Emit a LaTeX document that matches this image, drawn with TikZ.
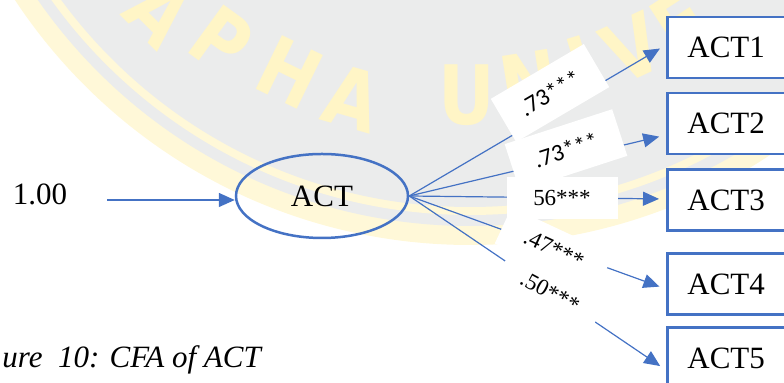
\documentclass[tikz,border=0pt]{standalone}
\usepackage{fontspec}
\setmainfont{Liberation Serif}
\newfontfamily\labelsans{Carlito}
\newfontfamily\sealfont{DejaVu Sans}
\usetikzlibrary{arrows.meta,shapes.geometric,calc}
\definecolor{pathblue}{HTML}{4472C4}
\definecolor{sealgrey}{HTML}{EBECEC}
\definecolor{sealgold}{HTML}{FFF8D8}
\definecolor{sealtext}{HTML}{FFF5C6}

\begin{document}
\begin{tikzpicture}[x=0.5pt,y=-0.5pt,
  indicator/.style={draw=pathblue, line width=1.4pt, fill=white, anchor=west,
    inner xsep=10pt, inner ysep=0pt, text width=48pt, align=left,
    minimum height=30.5pt, font=\fontsize{15.5}{18}\selectfont},
  latent/.style={ellipse, draw=pathblue, line width=1.25pt, minimum width=86pt,
    minimum height=42pt, inner sep=0pt, font=\fontsize{15.5}{18}\selectfont},
  loading/.style={-{Triangle[length=8pt,width=7pt]}, draw=pathblue,
    line width=0.6pt, shorten >=3.5pt},
  coef/.style={fill=white, inner sep=0pt, font=\fontsize{11.5}{13}\selectfont},
  coefsans/.style={coef, font=\labelsans\fontsize{12}{14}\selectfont},
  sealletter/.style={text=sealtext, font=\sealfont\bfseries\fontsize{41}{41}\selectfont,
    inner sep=0pt}
]
\useasboundingbox (0,0) rectangle (784,383);
\clip (0,0) rectangle (784,383);

% seal in the page background: grey disc with two gold rings
\coordinate (seal) at (470,-300);
\fill[sealgold] (seal) circle[radius=545];
\fill[sealgrey] (seal) circle[radius=526];
\fill[sealgold] (seal) circle[radius=515];
\fill[sealgrey] (seal) circle[radius=507];
\foreach \ch/\px/\py/\rot [count=\i] in {A/160/12/-45, P/222/40/-36, H/290/72/-26,
    A/353/98/-16, U/467/95/0, N/530/82/9, I/582/66/17, V/632/48/25, E/680/22/33}
  \node[sealletter, rotate=\rot, xscale=0.85] (sealch\i) at (\px,\py) {\ch};

% latent factor and its fixed variance
\node[font=\fontsize{15.5}{18}\selectfont] (fixed) at (40,194) {1.00};
\node[latent] (act) at (322,196) {ACT};
\coordinate (src) at (107,200);
\draw[pathblue, line width=0.75pt, -{Triangle[length=8pt,width=7pt]}]
  (src) -- (src -| act.west);

% indicators
\node[indicator] (i1) at (666,47.5) {ACT1};
\node[indicator] (i2) at (666,123.5) {ACT2};
\node[indicator] (i3) at (666,200) {ACT3};
\node[indicator] (i4) at (666,284) {ACT4};
\node[indicator] (i5) at (666,358) {ACT5};

% loadings
\draw[loading] (act.east) -- ($(i1.west)+(0,-2.5)$);
\draw[loading] (act.east) -- ($(i2.west)+(0,11.5)$);
\draw[loading] (act.east) -- ($(i3.west)+(0,-1)$);
\draw[loading] (act.east) -- ($(i4.west)+(0,5)$);
\draw[loading] (act.east) -- ($(i5.west)+(0,12)$);

% standardized loading labels
\node[coefsans, rotate=30.5, minimum width=54pt, minimum height=25pt] (l1) at (550,93) {.73***};
\node[coefsans, rotate=18, minimum width=56.5pt, minimum height=24.5pt] (l2) at (566,150) {.73***};
\node[coef, minimum width=55.5pt, minimum height=21pt] (l3) at (562,198) {56***};
\node[coef, rotate=-25, minimum width=56pt, minimum height=20pt] (l4) at (554,249) {.47***};
\node[coef, rotate=-28, minimum width=54pt, minimum height=20pt] (l5) at (550,292) {.50***};

% caption
\node[anchor=base west, inner sep=0pt, font=\itshape\fontsize{15.5}{18}\selectfont]
  (caption) at (2,368) {ure\ \ 10: CFA of ACT};
\end{tikzpicture}
\end{document}
